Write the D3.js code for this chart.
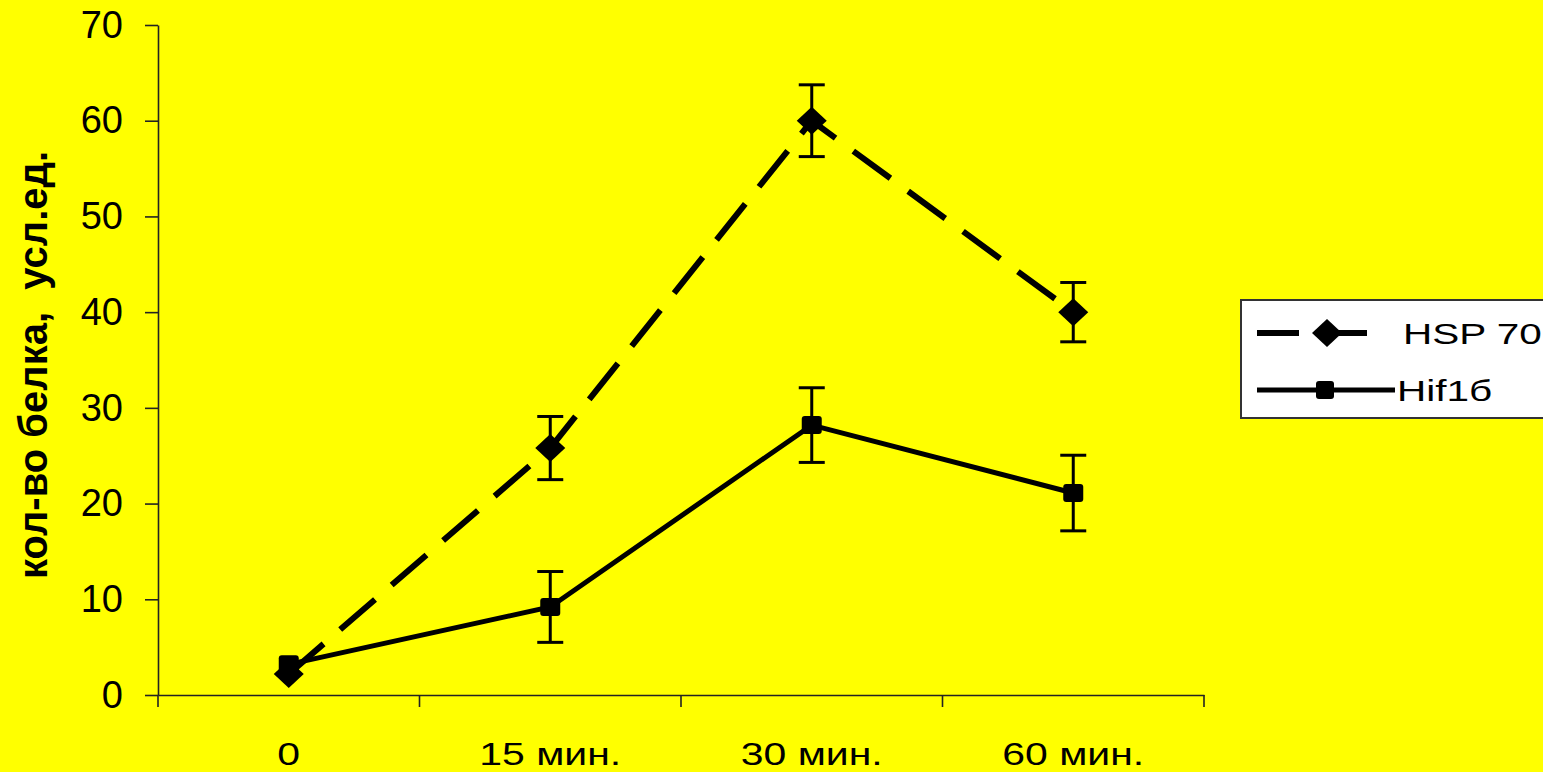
<!DOCTYPE html>
<html>
<head>
<meta charset="utf-8">
<script src="https://cdn.jsdelivr.net/npm/d3@7"></script>
<style>
  html, body { margin: 0; padding: 0; background: #ffff00; overflow: hidden; }
  text { font-family: "Liberation Sans", Arial, sans-serif; fill: #000; }
</style>
</head>
<body>
<div id="chart"></div>
<script>
// time points
var categories = ["0", "15 мин.", "30 мин.", "60 мин."];
// HSP 70 means and error
var hspValues = [2.2, 25.8, 60.0, 40.0];
var hspErr    = [0, 3.3, 3.75, 3.1];
// Hif1б means and error
var hifValues = [3.2, 9.2, 28.2, 21.1];
var hifErr    = [0, 3.7, 3.9, 3.95];
var yTicks = [0, 10, 20, 30, 40, 50, 60, 70];
var yTitle = "кол-во белка,  усл.ед.";

var W = 1543, H = 772;
var mLeft = 158, mRight = 1204, mTop = 25, mBottom = 695;

var svg = d3.select("#chart").append("svg").attr("width", W).attr("height", H);
svg.append("rect").attr("width", W).attr("height", H).attr("fill", "#ffff00");

var x = d3.scaleBand().domain(categories).range([mLeft, mRight]).paddingInner(0).paddingOuter(0);
var y = d3.scaleLinear().domain([0, 70]).range([mBottom, mTop]);
var cx = function(c) { return x(c) + x.bandwidth() / 2; };

// y axis
var yAxis = svg.append("g").attr("transform", "translate(" + mLeft + ",0)")
	.call(d3.axisLeft(y).tickValues(yTicks).tickSize(13).tickSizeOuter(0).tickPadding(22));
yAxis.select(".domain").attr("stroke", "#222").attr("stroke-width", 1.6);
yAxis.selectAll(".tick line").attr("stroke", "#222").attr("stroke-width", 1.6);
yAxis.selectAll("text").attr("font-size", 38).attr("font-family", "'Liberation Sans', Arial, sans-serif").attr("fill", "#000");

// x axis: labels centered in bands, ticks on band edges
var xAxis = svg.append("g").attr("transform", "translate(0," + mBottom + ")")
	.call(d3.axisBottom(x).tickSize(0).tickSizeOuter(0).tickPadding(47));
xAxis.select(".domain").attr("stroke", "#222").attr("stroke-width", 1.6);
xAxis.selectAll("text").attr("font-size", 32).attr("font-family", "'Liberation Sans', Arial, sans-serif").attr("fill", "#000")
	.attr("transform", "scale(1.28,1)");

var edges = categories.map(function(c) { return x(c); }).concat([x.range()[1]]);
svg.append("g").selectAll("line").data(edges).enter().append("line")
	.attr("x1", function(d) { return d; }).attr("x2", function(d) { return d; })
	.attr("y1", mBottom).attr("y2", mBottom + 12)
	.attr("stroke", "#222").attr("stroke-width", 1.6);

// y title
svg.append("text")
	.attr("transform", "translate(47," + 365 + ") rotate(-90)")
	.attr("text-anchor", "middle")
	.attr("font-size", 40).attr("font-weight", "bold")
	.style("white-space", "pre")
	.text(yTitle);

function series(vals, errs) {
	return categories.map(function(c, i) { return { c: c, v: vals[i], e: errs[i] }; });
}
var hsp = series(hspValues, hspErr), hif = series(hifValues, hifErr);

var line = d3.line().x(function(d) { return cx(d.c); }).y(function(d) { return y(d.v); });

svg.append("path").datum(hsp).attr("d", line)
	.attr("fill", "none").attr("stroke", "#000").attr("stroke-width", 6)
	.attr("stroke-dasharray", "46,22");
svg.append("path").datum(hif).attr("d", line)
	.attr("fill", "none").attr("stroke", "#000").attr("stroke-width", 5);

// error bars
function errorBars(data) {
	var g = svg.append("g").selectAll("g").data(data.filter(function(d) { return d.e > 0; })).enter().append("g");
	g.append("line").attr("x1", function(d) { return cx(d.c); }).attr("x2", function(d) { return cx(d.c); })
		.attr("y1", function(d) { return y(d.v + d.e); }).attr("y2", function(d) { return y(d.v - d.e); })
		.attr("stroke", "#000").attr("stroke-width", 3);
	[1, -1].forEach(function(s) {
		g.append("line").attr("x1", function(d) { return cx(d.c) - 13; }).attr("x2", function(d) { return cx(d.c) + 13; })
			.attr("y1", function(d) { return y(d.v + s * d.e); }).attr("y2", function(d) { return y(d.v + s * d.e); })
			.attr("stroke", "#000").attr("stroke-width", 3);
	});
}
errorBars(hsp);
errorBars(hif);

function diamond(px, py) {
	return "M" + px + "," + (py - 14) + "L" + (px + 15) + "," + py + "L" + px + "," + (py + 14) + "L" + (px - 15) + "," + py + "Z";
}

// markers
svg.append("g").selectAll("rect").data(hif).enter().append("rect")
	.attr("x", function(d) { return cx(d.c) - 10; }).attr("y", function(d) { return y(d.v) - 9; })
	.attr("width", 20).attr("height", 18).attr("rx", 3).attr("fill", "#000");
svg.append("g").selectAll("path").data(hsp).enter().append("path")
	.attr("d", function(d) { return diamond(cx(d.c), y(d.v)); }).attr("fill", "#000");

// legend
var lg = svg.append("g");
lg.append("rect").attr("x", 1241).attr("y", 300).attr("width", 330).attr("height", 118)
	.attr("fill", "#fff").attr("stroke", "#333").attr("stroke-width", 2);
lg.append("line").attr("x1", 1257).attr("x2", 1377).attr("y1", 333).attr("y2", 333)
	.attr("stroke", "#000").attr("stroke-width", 6).attr("stroke-dasharray", "42,26");
lg.append("path").attr("d", diamond(1327, 333)).attr("fill", "#000");
lg.append("text").attr("transform", "translate(1403,344) scale(1.35,1)").attr("font-size", 30).text("HSP 70");
lg.append("line").attr("x1", 1257).attr("x2", 1395).attr("y1", 390).attr("y2", 390)
	.attr("stroke", "#000").attr("stroke-width", 5);
lg.append("rect").attr("x", 1316).attr("y", 381).attr("width", 18).attr("height", 18).attr("rx", 3).attr("fill", "#000");
lg.append("text").attr("transform", "translate(1397,401) scale(1.35,1)").attr("font-size", 30).text("Hif1б");
</script>
</body>
</html>
